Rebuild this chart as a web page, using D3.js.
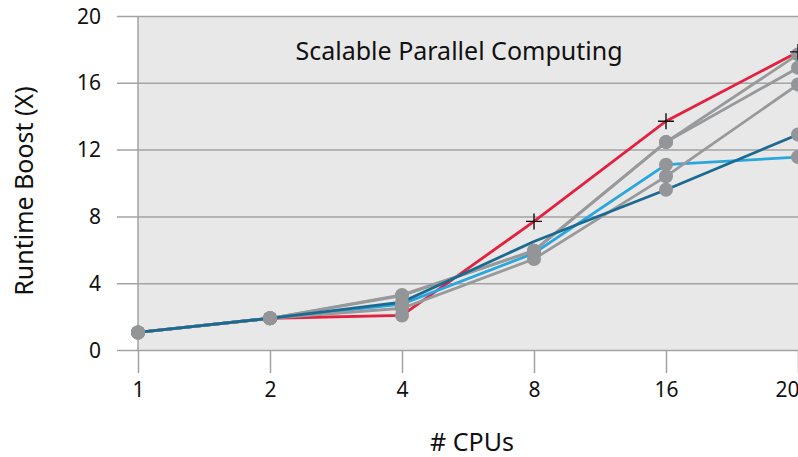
<!DOCTYPE html>
<html>
<head>
<meta charset="utf-8">
<script src="https://cdn.jsdelivr.net/npm/d3@7"></script>
<style>
  body{margin:0;background:#fff;}
  svg{display:block;font-family:"Noto Sans",sans-serif;}
</style>
</head>
<body>
<svg id="chart" width="798" height="457"></svg>
<script>
'use strict';

// categories and tick values
var cpus=['1','2','4','8','16','20']
  , yTicks=[0,4,8,12,16,20];

// series, one value per cpu count
var grayA=[1.05,1.9,3.3,5.95,12.45,17.7]
  , grayB=[1.05,1.9,3.25,5.95,12.45,16.9]
  , grayC=[1.05,1.9,2.5,5.45,10.4,15.9]
  , lightBlue=[1.05,1.9,2.75,5.8,11.1,11.55]
  , darkBlue=[1.05,1.9,2.87,6.5,9.6,12.9]
  , red=[1.05,1.9,2.07,7.7,13.7,17.85];

// marker per point: dot, cross or none
var dotAll=['dot','dot','dot','dot','dot','dot']
  , darkBlueMarks=['dot','dot','dot','none','dot','dot']
  , redMarks=['dot','dot','dot','cross','cross','cross'];

// drawing order: red at the bottom, dark blue on top
var series=[
    {values:red,color:'#e5203e',marks:redMarks}
  , {values:lightBlue,color:'#2aa6de',marks:dotAll}
  , {values:grayC,color:'#97999b',marks:dotAll}
  , {values:grayB,color:'#97999b',marks:dotAll}
  , {values:grayA,color:'#97999b',marks:dotAll}
  , {values:darkBlue,color:'#1c6a92',marks:darkBlueMarks}
];

var svg=d3.select('#chart')
  , pLeft=138, pRight=798, pTop=16, pBottom=350;

var x=d3.scalePoint().domain(cpus).range([pLeft,pRight])
  , y=d3.scaleLinear().domain([0,20]).range([pBottom,pTop]);

// plot background
svg.append('rect')
    .attr('x',pLeft).attr('y',pTop)
    .attr('width',pRight-pLeft).attr('height',pBottom-pTop)
    .attr('fill','#e8e8e8');

// horizontal grid, running out past the axis
var yAxis=d3.axisLeft(y).tickValues(yTicks).tickSize(-(pRight-117)).tickPadding(0).tickFormat('');
svg.append('g')
    .attr('transform','translate(117,0)')
    .call(yAxis)
    .call(function(g){
        g.select('.domain').remove();
        g.selectAll('.tick line').attr('stroke','#a3a3a3').attr('stroke-width',1.5)
            .attr('x1',0).attr('x2',pRight-117);
    });

svg.append('g').selectAll('text')
    .data(yTicks)
    .enter().append('text')
    .attr('x',101)
    .attr('y',function(d){return y(d);})
    .attr('dy','0.36em')
    .attr('text-anchor','end')
    .attr('font-size',21)
    .attr('fill','#111')
    .text(function(d){return d;});

// vertical axis line
svg.append('line')
    .attr('x1',pLeft).attr('x2',pLeft)
    .attr('y1',pTop).attr('y2',pBottom)
    .attr('stroke','#a3a3a3').attr('stroke-width',1.5);

// x ticks below the plot
var xAxis=d3.axisBottom(x).tickSize(23).tickPadding(9);
svg.append('g')
    .attr('transform','translate(0,'+pBottom+')')
    .call(xAxis)
    .call(function(g){
        g.select('.domain').remove();
        g.selectAll('.tick line').attr('stroke','#a3a3a3').attr('stroke-width',1.5);
        g.selectAll('.tick text').attr('font-size',21).attr('fill','#111')
            .attr('font-family','"Noto Sans",sans-serif');
        // last label pulled in so it stays on the page
        g.selectAll('.tick text').filter(function(d){return d===cpus[cpus.length-1];})
            .attr('text-anchor','end').attr('x',1);
    });

// lines
var line=d3.line()
    .x(function(d,i){return x(cpus[i]);})
    .y(function(d){return y(d);});

svg.append('g').selectAll('path')
    .data(series)
    .enter().append('path')
    .attr('d',function(s){return line(s.values);})
    .attr('fill','none')
    .attr('stroke',function(s){return s.color;})
    .attr('stroke-width',2.8);

// gray dots and black crosses
var dots=[], crosses=[];
series.forEach(function(s){
    s.values.forEach(function(v,i){
        if(s.marks[i]==='dot') dots.push({c:cpus[i],v:v});
        if(s.marks[i]==='cross') crosses.push({c:cpus[i],v:v});
    });
});
svg.append('g').selectAll('circle')
    .data(dots)
    .enter().append('circle')
    .attr('cx',function(d){return x(d.c);})
    .attr('cy',function(d){return y(d.v);})
    .attr('r',7)
    .attr('fill','#939598');

svg.append('g').selectAll('path')
    .data(crosses)
    .enter().append('path')
    .attr('d',function(d){
        var cx=x(d.c), cy=y(d.v);
        return 'M'+(cx-8)+' '+cy+'H'+(cx+8)+'M'+cx+' '+(cy-8)+'V'+(cy+8);
    })
    .attr('stroke','#111')
    .attr('stroke-width',1.4);

// titles
svg.append('text')
    .attr('x',459).attr('y',60)
    .attr('text-anchor','middle')
    .attr('font-size',25)
    .attr('fill','#111')
    .text('Scalable Parallel Computing');

svg.append('text')
    .attr('x',472).attr('y',451)
    .attr('text-anchor','middle')
    .attr('font-size',25)
    .attr('fill','#111')
    .text('# CPUs');

svg.append('text')
    .attr('transform','translate(33,191) rotate(-90)')
    .attr('text-anchor','middle')
    .attr('font-size',25)
    .attr('fill','#111')
    .text('Runtime Boost (X)');
</script>
</body>
</html>
